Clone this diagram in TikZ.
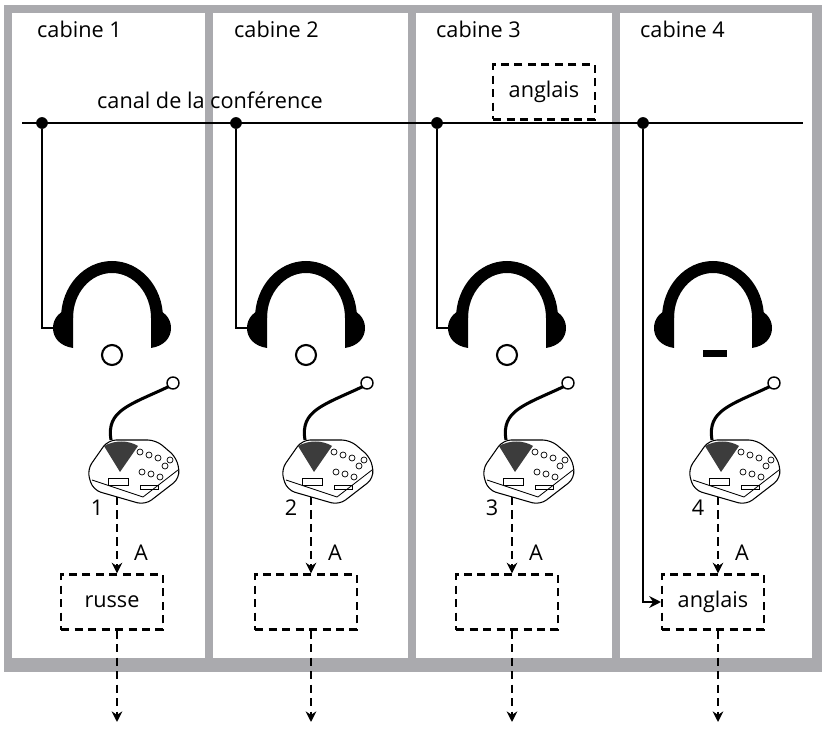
\documentclass[tikz,border=0pt]{standalone}
\usepackage{fontspec}
\setmainfont{Open Sans}
\usetikzlibrary{positioning, calc, arrows.meta}
\definecolor{wallgray}{RGB}{170, 170, 174}
\definecolor{micgray}{RGB}{60, 60, 60}

\begin{document}
\begin{tikzpicture}[
                x=0.03cm, y=-0.03cm,
                font=\fontsize{18.5}{22}\selectfont,
                % walls of the booths
                wall/.style={fill=wallgray, draw=none},
                % dashed boxes
                dbox/.style={
                    draw, dash pattern=on 7pt off 4.5pt, line width=2pt,
                    minimum width=3.05cm, minimum height=1.65cm, inner sep=0pt
                },
                % dashed arrows
                darrow/.style={
                    -{Stealth[length=9pt,width=9pt]}, dash pattern=on 7pt off 4.5pt, line width=2pt
                },
                % solid lines of the channel
                chan/.style={line width=2pt},
                joint/.style={circle, fill, inner sep=0pt, minimum size=10pt}
            ]
                \useasboundingbox (0,0) rectangle (826,740);

                % 1. walls
                \fill[wall] (4,5) rectangle (822,672);
                \foreach \a/\b in {12/205, 213/408, 416/612, 620/812}
                    \fill[white] (\a,13) rectangle (\b,658);

                % 2. booth titles
                \foreach \i/\x in {1/33, 2/230, 3/432, 4/636}
                    \node[anchor=base west] (cab\i) at (\x,38) {cabine \i};
                \node[anchor=base] (canal) at (210,109) {canal de la conférence};
                \node[dbox] (top3) at (544,92) {anglais};

                % 3. channel line
                \coordinate (west) at (22,123);
                \coordinate (east) at (803,123);
                \draw[chan] (west) -- (east);

                % 4. headphones, microphones, boxes
                \foreach \i/\dx in {1/0, 2/194, 3/395, 4/601}{
                    \begin{scope}[shift={(\dx,0)}]
                        \node[joint] (dot\i) at (42,123) {};
                        % band
                        \fill (61,318) arc[start angle=180, end angle=360, x radius=51, y radius=57]
                              -- (151,318) arc[start angle=360, end angle=180, x radius=39, y radius=45] -- cycle;
                        % cups
                        \fill (73,308) -- (73,348) .. controls (60,346) and (53,338) .. (53,328)
                              .. controls (53,318) and (60,310) .. (73,308);
                        \fill (151,308) -- (151,348) .. controls (164,346) and (171,338) .. (171,328)
                              .. controls (171,318) and (164,310) .. (151,308);
                        \coordinate (hp\i) at (54,328);
                        % microphone
                        \draw[line width=2.6pt] (111,440) .. controls (106,410) and (130,405) .. (170,386);
                        \draw[line width=1.2pt, fill=white] (173,383) circle (6);
                        \draw[line width=0.9pt, fill=white, rounded corners=7pt]
                            (87,470) -- (108,440) -- (156,440) -- (177,458) -- (180,478) -- (145,505) -- (93,490) -- cycle;
                        \fill[micgray] (104,446) .. controls (115,440) and (128,440) .. (138,446) -- (120,472) -- cycle;
                        \draw[line width=0.7pt] (92,480) -- (143,497) -- (178,470);
                        \foreach \bx/\by in {140/452, 149/455, 158/458, 165/466, 142/472, 151/474, 160/477, 170/460}
                            \draw[line width=0.6pt] (\bx,\by) circle (3);
                        \draw[line width=0.6pt] (108,478) rectangle (128,485);
                        \draw[line width=0.6pt] (140,485) rectangle (158,489);
                        \coordinate (mic\i) at (117,497);
                        % dashed arrows and box
                        \node[dbox] (box\i) at (112,602) {};
                        \node (num\i) at (97,508) {\i};
                        \node (a\i) at (141,553) {A};
                        \draw[darrow] (mic\i) -- (mic\i |- box\i.north);
                        \coordinate (out\i) at (117,722);
                        \draw[darrow] (out\i |- box\i.south) -- (out\i);
                    \end{scope}
                }
                \node at (box1) {russe};
                \node at (box4) {anglais};

                % 5. connections of the headphones
                \foreach \i in {1,2,3}
                    \draw[chan] (dot\i) |- (hp\i);
                \fill (703,350) rectangle (727,357);
                \foreach \i in {1,2,3}
                    \draw[line width=1.8pt] ($(hp\i)+(58,27)$) circle (10);
                \draw[chan, -{Stealth[length=10pt,width=10pt]}] (dot4) |- (box4.west);
            \end{tikzpicture}
\end{document}
